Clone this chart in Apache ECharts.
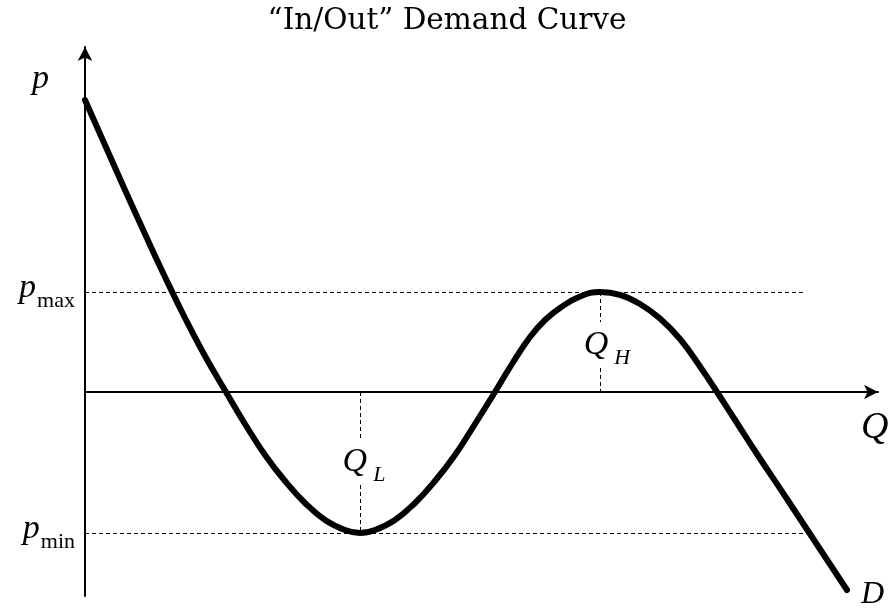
<!DOCTYPE html>
<html>
<head>
<meta charset="utf-8">
<script src="https://cdn.jsdelivr.net/npm/echarts@6/dist/echarts.min.js"></script>
<style>
html, body { margin: 0; padding: 0; background: #fff; }
#chart { width: 894px; height: 611px; }
</style>
</head>
<body>
<div id="chart"></div>
<script>
// curve (Q along x, p along y; p = 0 on the Q axis)
const qValues = [0, 2.0, 4.0, 6.0, 8.0, 10.0, 12.0, 14.1, 16.0, 18.0, 20.0, 22.0, 24.0, 26.0, 27.5, 29.0, 31.0, 33.0, 35.0, 37.0, 39.0, 41.0, 42.7, 44.5, 46.0, 47.5, 49.5, 51.5, 53.5, 55.5, 57.5, 59.5, 61.5, 63.2, 65.2, 67.2, 70.2, 72.7, 76.2];
const pValues = [29.2, 24.7, 20.2, 15.8, 11.5, 7.4, 3.6, 0, -3.2, -6.3, -8.9, -11.1, -12.8, -13.8, -14.1, -13.8, -12.8, -11.1, -8.9, -6.3, -3.2, 0, 2.8, 5.5, 7.2, 8.4, 9.55, 10.0, 9.72, 8.8, 7.35, 5.3, 2.55, 0, -3.1, -6.2, -10.7, -14.5, -19.8];

// the trough (Q_L, p_min) and the hump (Q_H, p_max) of the curve
let iLow = 1, iHigh = 1;
for (let i = 1; i < pValues.length - 1; i++) {
  if (pValues[i] < pValues[i - 1] && pValues[i] < pValues[i + 1]) iLow = i;
  if (pValues[i] > pValues[i - 1] && pValues[i] > pValues[i + 1]) iHigh = i;
}
const pMin = pValues[iLow], qL = qValues[iLow];
const pMax = pValues[iHigh], qH = qValues[iHigh];

// where the dashed guides stop and where the Q labels cut them
const pMaxLineEnd = 72.0;
const pMinLineEnd = 72.5;
const qLGap = [-4.6, -9.3];
const qHGap = [7.0, 2.4];

const serif = 'Liberation Serif';
const dash = { color: '#000', width: 1, type: [4, 3] };

const chart = echarts.init(document.getElementById('chart'));

const pLabelRich = {
  p: { fontFamily: serif, fontStyle: 'italic', fontSize: 34, color: '#000', padding: [0, 1, 7, 0] },
  s: { fontFamily: serif, fontSize: 22, color: '#000', verticalAlign: 'bottom' }
};
const qLabelRich = {
  q: { fontFamily: serif, fontStyle: 'italic', fontSize: 34, color: '#000', padding: [0, 6, 7, 0] },
  s: { fontFamily: serif, fontStyle: 'italic', fontSize: 22, color: '#000', verticalAlign: 'bottom' }
};

const option = {
  animation: false,
  backgroundColor: '#fff',
  title: {
    text: '\u201cIn/Out\u201d Demand Curve',
    left: 'center',
    top: 1,
    textStyle: { fontFamily: 'DejaVu Serif', fontWeight: 'normal', fontSize: 29.5, color: '#000' }
  },
  grid: { left: 85, right: 16, top: 47, bottom: 15 },
  xAxis: {
    type: 'value',
    min: 0,
    max: 79.3,
    axisLine: { onZero: true, lineStyle: { color: '#000', width: 2 }, symbol: ['none', 'arrow'], symbolSize: [11, 14] },
    axisTick: { show: false },
    axisLabel: { show: false },
    splitLine: { show: false }
  },
  yAxis: {
    type: 'value',
    min: -20.4,
    max: 34.5,
    axisLine: { onZero: false, lineStyle: { color: '#000', width: 2 }, symbol: ['none', 'arrow'], symbolSize: [11, 14] },
    axisTick: { show: false },
    axisLabel: { show: false },
    splitLine: { show: false }
  },
  graphic: [
    { type: 'text', left: 32, top: 62, style: { text: 'p', font: 'italic 34px "Liberation Serif"', fill: '#000' } },
    { type: 'text', left: 861, top: 409, style: { text: 'Q', font: 'italic 38px "Liberation Serif"', fill: '#000' } }
  ],
  series: [
    {
      type: 'line',
      data: qValues.map((q, i) => [q, pValues[i]]),
      smooth: 0.45,
      symbol: 'none',
      lineStyle: { color: '#000', width: 6, cap: 'round' },
      endLabel: {
        show: true,
        formatter: 'D',
        distance: 14,
        offset: [0, 5],
        fontFamily: serif,
        fontStyle: 'italic',
        fontSize: 32,
        color: '#000'
      },
      markLine: {
        silent: true,
        symbol: ['none', 'none'],
        lineStyle: dash,
        data: [
          [
            { coord: [0, pMax], label: { show: true, position: 'start', distance: 10, formatter: '{p|p}{s|max}', rich: pLabelRich } },
            { coord: [pMaxLineEnd, pMax] }
          ],
          [
            { coord: [0, pMin], label: { show: true, position: 'start', distance: 10, formatter: '{p|p}{s|min}', rich: pLabelRich } },
            { coord: [pMinLineEnd, pMin] }
          ],
          [{ coord: [qL, 0], label: { show: false } }, { coord: [qL, qLGap[0]] }],
          [{ coord: [qL, qLGap[1]], label: { show: false } }, { coord: [qL, pMin] }],
          [{ coord: [qH, pMax], label: { show: false } }, { coord: [qH, qHGap[0]] }],
          [{ coord: [qH, qHGap[1]], label: { show: false } }, { coord: [qH, 0] }]
        ]
      },
      markPoint: {
        silent: true,
        symbol: 'circle',
        symbolSize: 0,
        data: [
          {
            coord: [qL, (qLGap[0] + qLGap[1]) / 2],
            label: { show: true, position: 'inside', offset: [4, 4], formatter: '{q|Q}{s|L}', rich: qLabelRich }
          },
          {
            coord: [qH, (qHGap[0] + qHGap[1]) / 2],
            label: { show: true, position: 'inside', offset: [7, 4], formatter: '{q|Q}{s|H}', rich: qLabelRich }
          }
        ]
      }
    }
  ]
};

option && chart.setOption(option);
</script>
</body>
</html>
